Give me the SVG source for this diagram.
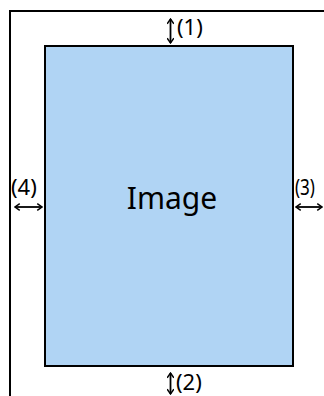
<svg xmlns="http://www.w3.org/2000/svg" width="324" height="396" viewBox="0 0 324 396">
<style>
.lbl{font-family:"Noto Sans",sans-serif;font-size:22px;fill:#000}
.arr{stroke:#000;stroke-width:1.8;fill:none}
</style>
<defs>
<marker id="ah" viewBox="0 0 10 10" refX="9" refY="5" markerWidth="4.4" markerHeight="4.4" orient="auto-start-reverse" markerUnits="strokeWidth">
<path d="M3,0.8 L9,5 L3,9.2" fill="none" stroke="#000" stroke-width="1.8"/>
</marker>
</defs>
<g id="frame">
<path d="M10,396 V11 H324" fill="none" stroke="#000" stroke-width="2"/>
</g>
<g id="image">
<rect x="45" y="46" width="248" height="320" fill="#b0d4f4" stroke="#000" stroke-width="2"/>
<text x="172" y="209" text-anchor="middle" font-family="Noto Sans,sans-serif" font-size="30">Image</text>
</g>
<g id="connectors">
<line class="arr" x1="170.5" y1="19" x2="170.5" y2="43" marker-start="url(#ah)" marker-end="url(#ah)"/>
<line class="arr" x1="170.5" y1="373" x2="170.5" y2="394" marker-start="url(#ah)" marker-end="url(#ah)"/>
<line class="arr" x1="15" y1="207" x2="42" y2="207" marker-start="url(#ah)" marker-end="url(#ah)"/>
<line class="arr" x1="296" y1="207" x2="322" y2="207" marker-start="url(#ah)" marker-end="url(#ah)"/>
</g>
<g id="labels">
<text class="lbl" x="177" y="35">(1)</text>
<text class="lbl" x="176" y="390">(2)</text>
<text class="lbl" x="295" y="195" textLength="20" lengthAdjust="spacingAndGlyphs">(3)</text>
<text class="lbl" x="11" y="195">(4)</text>
</g>
</svg>
